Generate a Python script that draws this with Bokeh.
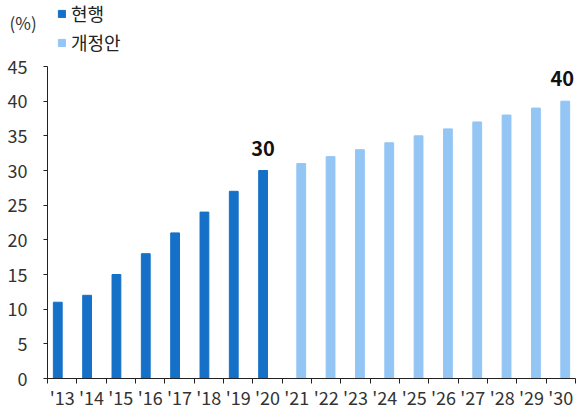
from bokeh.plotting import figure
from bokeh.models import (Range1d, FixedTicker, Legend, LegendItem, Label,
                          ColumnDataSource)
from bokeh.core.properties import value
from bokeh.embed import file_html
from bokeh.resources import INLINE

years = ["'13", "'14", "'15", "'16", "'17", "'18", "'19", "'20", "'21",
         "'22", "'23", "'24", "'25", "'26", "'27", "'28", "'29", "'30"]
current_years = ["'13", "'14", "'15", "'16", "'17", "'18", "'19", "'20"]
current_vals = [11, 12, 15, 18, 21, 24, 27, 30]
proposed_years = ["'21", "'22", "'23", "'24", "'25", "'26", "'27", "'28", "'29", "'30"]
proposed_vals = [31, 32, 33, 34, 35, 36, 37, 38, 39, 40]
label_years = ["'20", "'30"]
label_vals = [30, 40]
y_ticks = [0, 5, 10, 15, 20, 25, 30, 35, 40, 45]
Y_MAX = 45

FONT = "Noto Sans CJK KR"
DARK = "#1570c8"
LIGHT = "#93c5f5"
BW = 0.3

# page geometry (pixels): plot area spans x 47..575, y 66..378 of a 577x408 canvas
W, H = 577, 408
FL, FR, FT, FB = 47, 575, 66, 378
n = len(years)
xs = (FR - FL) / n            # px per category
ys = (FB - FT) / Y_MAX        # px per unit
x_range = Range1d(-FL / xs, n + (W - FR) / xs)
y_range = Range1d(-(H - FB) / ys, Y_MAX + FT / ys)

def pos(y):
    return years.index(y) + 0.5

cur_src = ColumnDataSource(dict(x=[pos(y) - BW / 2 for y in current_years], top=current_vals))
pro_src = ColumnDataSource(dict(x=[pos(y) + BW / 2 for y in proposed_years], top=proposed_vals))
lab_src = ColumnDataSource(dict(
    x=[pos(y) - BW / 2 if y in current_years else pos(y) + BW / 2 - 0.1 for y in label_years],
    y=label_vals, t=[str(v) for v in label_vals]))

p = figure(width=W, height=H, output_backend="svg", toolbar_location=None,
           x_range=x_range, y_range=y_range,
           min_border_left=0, min_border_right=0, min_border_top=0, min_border_bottom=0)
p.outline_line_color = None
p.grid.visible = False
p.background_fill_color = "white"
p.border_fill_color = "white"

r1 = p.vbar(x="x", top="top", width=BW, source=cur_src, color=DARK)
r2 = p.vbar(x="x", top="top", width=BW, source=pro_src, color=LIGHT)
p.text(x="x", y="y", text="t", source=lab_src, text_align="center", text_baseline="bottom",
       y_offset=-15, text_font=value(FONT), text_font_size="20px", text_font_style="bold",
       text_color="#111111")

# y axis
ya = p.yaxis[0]
ya.fixed_location = 0
ya.bounds = (0, Y_MAX)
ya.ticker = FixedTicker(ticks=y_ticks)
ya.major_tick_in = 0
ya.major_tick_out = 4
ya.minor_tick_out = 0
ya.minor_tick_in = 0
ya.axis_line_color = "#222222"
ya.major_tick_line_color = "#222222"
ya.major_label_text_font = FONT
ya.major_label_text_font_size = "18px"
ya.major_label_text_color = "#333333"
ya.major_label_standoff = 16

# x axis: labels at centers, ticks at boundaries
xa = p.xaxis[0]
xa.fixed_location = 0
xa.bounds = (0, n)
centers = [i + 0.5 for i in range(n)]
bounds = [i for i in range(n + 1)]
xa.ticker = FixedTicker(ticks=centers, minor_ticks=bounds)
xa.major_label_overrides = {c: y for c, y in zip(centers, years)}
xa.major_tick_out = 0
xa.major_tick_in = 0
xa.minor_tick_out = 5
xa.minor_tick_in = 0
xa.minor_tick_line_color = "#222222"
xa.axis_line_color = "#222222"
xa.major_label_text_font = FONT
xa.major_label_text_font_size = "18px"
xa.major_label_text_color = "#333333"
xa.major_label_standoff = 0

legend = Legend(items=[LegendItem(label="현행", renderers=[r1]),
                       LegendItem(label="개정안", renderers=[r2])],
                location=(57, H - 55), glyph_width=9, glyph_height=9, label_height=24,
                spacing=3, padding=0, margin=0, border_line_color=None,
                background_fill_alpha=0, label_text_font=FONT,
                label_text_font_size="18px", label_text_color="#222222",
                label_standoff=5)
p.add_layout(legend, "center")

p.add_layout(Label(x=9, y=H - 22, x_units="screen", y_units="screen", text="(%)",
                   text_font=FONT, text_font_size="17px", text_color="#333333",
                   text_baseline="middle"))

open("out.html", "w").write(file_html(p, INLINE))
